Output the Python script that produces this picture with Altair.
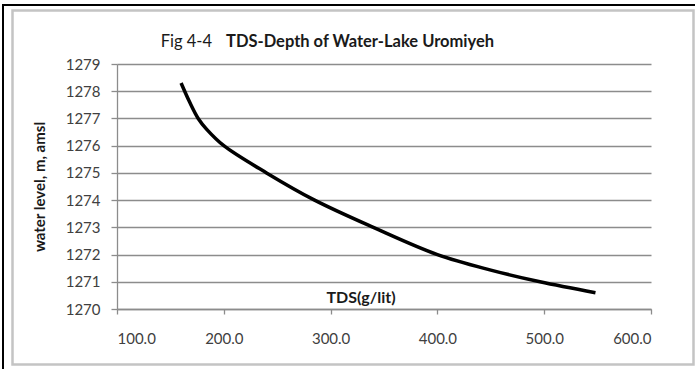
import altair as alt
import pandas as pd

# Data
tds = [160, 168, 176, 184, 200, 240, 285, 340, 400, 450, 496, 548]
level = [1278.3, 1277.6, 1277.0, 1276.6, 1276.0, 1275.0, 1274.0, 1273.0, 1272.0, 1271.43, 1271.0, 1270.6]
x_ticks = [100, 200, 300, 400, 500, 600]
y_ticks = [1270, 1271, 1272, 1273, 1274, 1275, 1276, 1277, 1278, 1279]

title_a = "Fig 4-4"
title_b = "TDS-Depth of Water-Lake Uromiyeh"
x_title = "TDS(g/lit)"
y_title = "water level, m, amsl"

df = pd.DataFrame({"tds": tds, "level": level})
one = pd.DataFrame({"k": [0]})

FONT = "Lato"
W, H = 534, 245
PL, PT = 117, 64

line = alt.Chart(df).mark_line(color="black", strokeWidth=3.5, interpolate="catmull-rom").encode(
    x=alt.X("tds:Q", scale=alt.Scale(domain=[100, 600], nice=False, zero=False),
            axis=alt.Axis(values=x_ticks, format=".1f", title=None, grid=False,
                          tickSize=5, labelPadding=17, labelFontSize=15,
                          labelFont=FONT, labelColor="#404040",
                          domainColor="#8c8c8c", tickColor="#8c8c8c", domainWidth=1.3, tickWidth=1.3)),
    y=alt.Y("level:Q", scale=alt.Scale(domain=[1270, 1279], nice=False, zero=False),
            axis=alt.Axis(values=y_ticks, format="d", title=None, grid=True,
                          gridColor="#8c8c8c", gridWidth=1.3,
                          tickSize=6, labelPadding=11, labelFontSize=15,
                          labelFont=FONT, labelColor="#404040",
                          domainColor="#8c8c8c", tickColor="#8c8c8c", domainWidth=1.3, tickWidth=1.3)),
)

def txt(s, x, y, size, weight="normal", align="center", angle=0):
    kw = dict(font=FONT, fontSize=size, fontWeight=weight, align=align,
              baseline="middle", color="#1a1a1a")
    if angle:
        kw["angle"] = angle
    return alt.Chart(one).mark_text(**kw).encode(
        x=alt.value(x), y=alt.value(y), text=alt.value(s))

t1 = txt(title_a, 212 - PL, 42 - PT, 16.5, "normal", "right")
t2 = txt(title_b, 226 - PL, 42 - PT, 16.5, "bold", "left")
tx = txt(x_title, 361 - PL, 298 - PT, 16, "bold")
ty = txt(y_title, 40 - PL, 187 - PT, 15, "bold", angle=270)

outer = alt.Chart(one).mark_rect(fillOpacity=0, stroke="black", strokeWidth=2).encode(
    x=alt.value(3 - PL), x2=alt.value(720 - PL), y=alt.value(5 - PT), y2=alt.value(400 - PT))
inner = alt.Chart(one).mark_rect(fillOpacity=0, stroke="#c4c4c4", strokeWidth=2.5).encode(
    x=alt.value(12.5 - PL), x2=alt.value(693.5 - PL), y=alt.value(10.5 - PT), y2=alt.value(364.5 - PT))

chart = alt.layer(outer, inner, line, t1, t2, tx, ty).properties(
    width=W, height=H,
    autosize=alt.AutoSizeParams(type="none"),
    padding={"left": PL, "top": PT, "right": 695 - PL - W, "bottom": 369 - PT - H},
    background="white",
).configure_view(stroke=None)

chart.save("out.html", embed_options={"renderer": "svg", "actions": False})
